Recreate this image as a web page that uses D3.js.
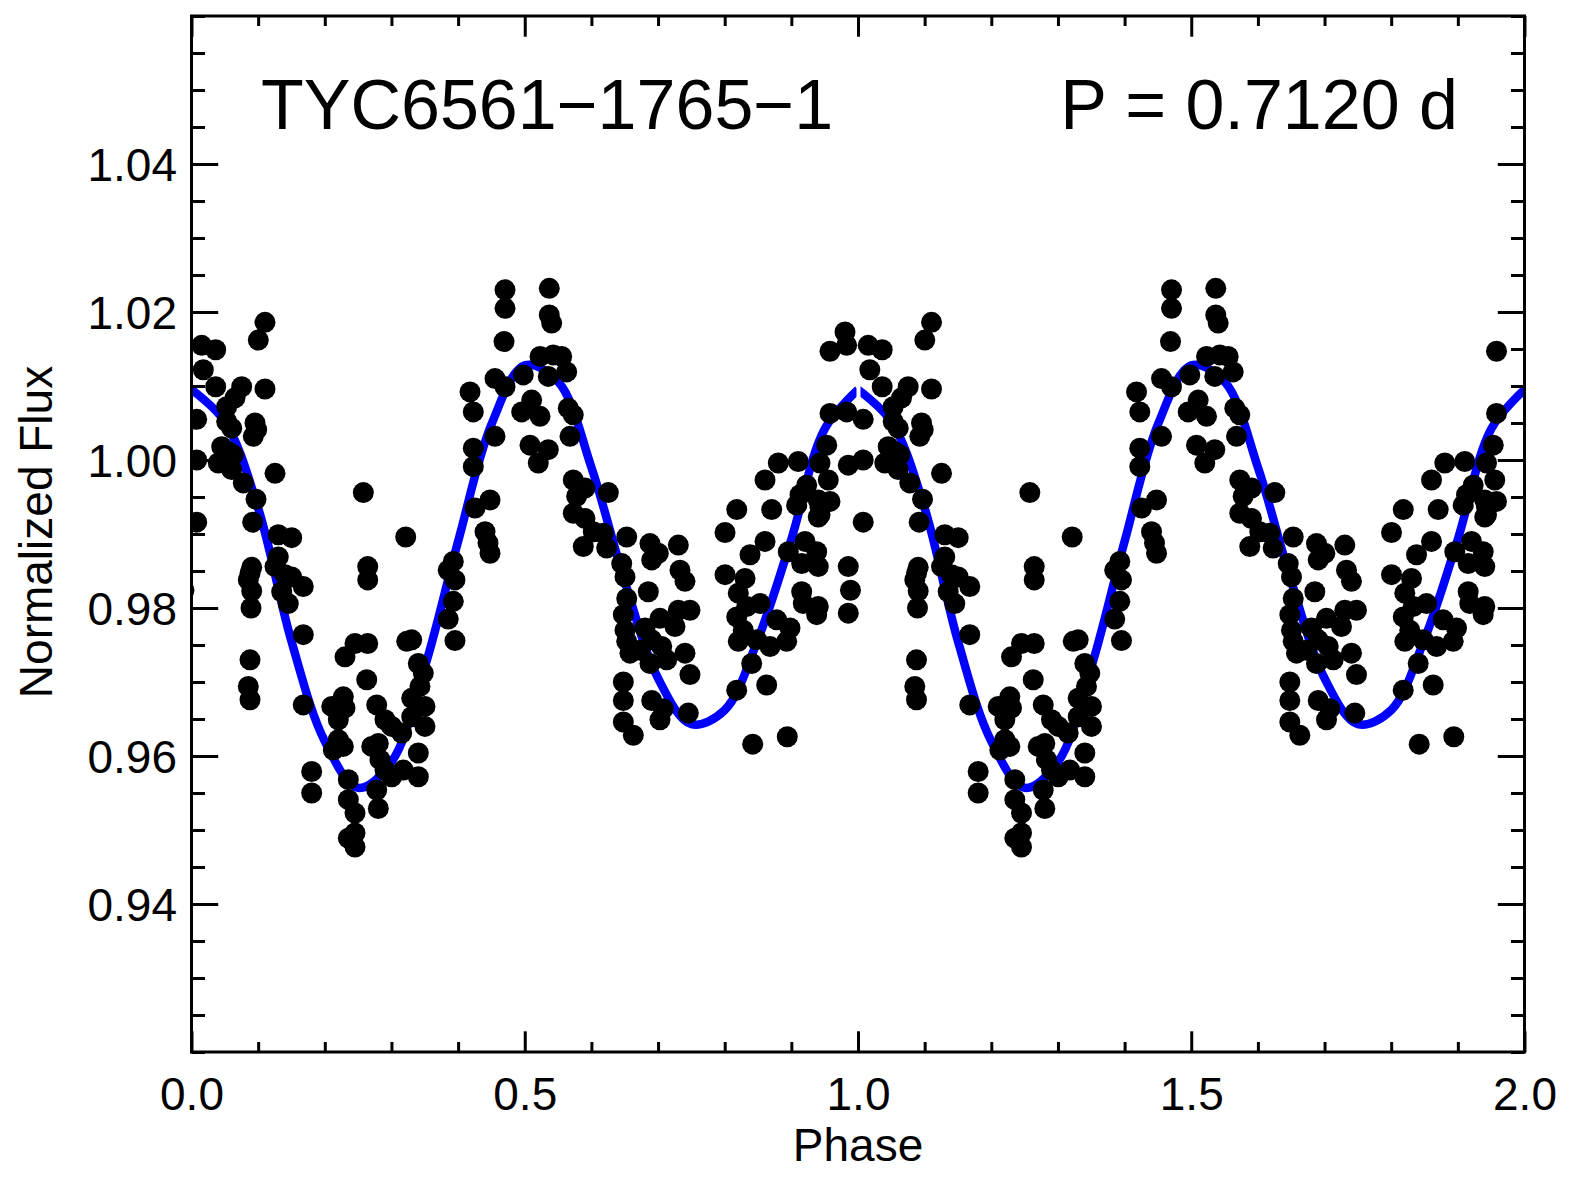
<!DOCTYPE html>
<html>
<head>
<meta charset="utf-8">
<script src="https://cdn.jsdelivr.net/npm/d3@7"></script>
<style>
html, body { margin: 0; padding: 0; background: #ffffff; }
svg { display: block; }
</style>
</head>
<body>
<svg id="chart" width="1576" height="1188"></svg>
<script>
// ---------------- data ----------------
// folded light curve: phase (cycle 0) and normalized flux; the plot shows each point at phase and phase+1
const phase = [
  -0.0195,-0.0170,-0.0170,-0.0146,-0.0146,-0.0113,-0.0146,
  0.0078,0.0078,0.0078,0.0153,0.0177,0.0363,0.0363,0.0753,0.1103,0.1103,
  0.1002,0.0653,0.0528,0.0528,0.0953,0.0978,0.0603,0.0927,0.0453,0.0552,
  0.0627,0.0402,0.0603,0.0777,0.1253,0.0968,0.0918,0.1302,0.1503,0.1302,
  0.0903,0.0878,0.0852,0.0903,0.0893,0.1403,0.1503,0.1253,0.1353,0.1452,
  0.1677,0.1677,0.0878,0.0852,0.0878,0.1677,0.1803,0.1803,0.2578,0.2644,
  0.2644,0.2303,0.2453,0.2644,0.2629,0.2104,0.2278,0.2303,0.2203,0.2203,
  0.2128,0.2278,0.2353,0.2353,0.2453,0.2453,0.2353,0.2453,0.2779,0.2803,
  0.2903,0.3004,0.2828,0.2903,0.2779,0.2803,0.3154,0.3178,0.2704,0.3004,
  0.3229,0.3304,0.3403,0.3478,0.3428,0.3304,0.3503,0.3304,0.3503,0.3403,
  0.3403,0.3214,0.3852,0.3928,0.3953,0.3928,0.3852,0.3953,0.4404,0.4449,
  0.4479,0.4704,0.4704,0.5368,0.5368,0.5404,0.4689,0.5229,0.5428,0.5554,
  0.5629,0.5353,0.4978,0.4554,0.4704,0.4179,0.4228,0.5104,0.4954,0.5229,
  0.5653,0.5728,0.5679,0.4554,0.5079,0.5353,0.5203,0.4228,0.4228,0.5728,
  0.5904,0.5779,0.6254,0.4254,0.4479,0.5728,0.5904,0.5878,0.6178,0.6229,
  0.6530,0.6455,0.8181,0.8705,0.8005,0.8605,0.8380,0.9080,0.9430,0.9404,
  0.6028,0.6879,0.7004,0.6905,0.7304,0.6504,0.7329,0.7404,0.6854,0.6530,
  0.8005,0.8305,0.8204,0.8954,0.9205,0.9380,0.9155,0.9404,0.9155,0.9179,
  0.9404,0.9380,0.6479,0.6504,0.6530,0.6579,0.6804,0.7029,0.7304,0.7479,
  0.6905,0.7055,0.7254,0.6879,0.7130,0.7404,0.7479,0.6729,0.6479,0.6479,
  0.6905,0.7079,0.7029,0.7454,0.6479,0.6629,0.8181,0.8279,0.8204,0.8530,
  0.8330,0.8780,0.8980,0.8930,0.8680,0.8405,0.8630,0.8180,0.8420,0.8939,
  0.8480,0.9580,0.9580,0.9531,0.8804,0.9104,0.9430,0.8605,0.9554,0.9230,
  0.9130,0.9404,0.9580,0.9430
];
const flux = [
  1.0173,1.0155,1.0065,0.9993,0.9856,0.9824,0.9793,
  1.0055,1.0000,0.9916,1.0155,1.0122,1.0149,1.0099,1.0099,1.0096,1.0186,
  1.0162,1.0084,1.0072,1.0052,1.0050,1.0041,1.0043,1.0032,1.0018,1.0011,
  1.0007,0.9996,0.9987,0.9969,0.9982,0.9947,0.9916,0.9899,0.9895,0.9869,
  0.9855,0.9847,0.9838,0.9823,0.9800,0.9845,0.9842,0.9856,0.9822,0.9806,
  0.9829,0.9764,0.9730,0.9694,0.9676,0.9669,0.9579,0.9550,0.9956,0.9856,
  0.9838,0.9734,0.9752,0.9752,0.9703,0.9667,0.9680,0.9665,0.9649,0.9622,
  0.9608,0.9613,0.9568,0.9541,0.9523,0.9496,0.9489,0.9477,0.9669,0.9617,
  0.9649,0.9640,0.9595,0.9581,0.9554,0.9529,0.9631,0.9581,0.9613,0.9572,
  0.9755,0.9757,0.9725,0.9712,0.9694,0.9678,0.9667,0.9653,0.9640,0.9604,
  0.9572,0.9896,0.9851,0.9863,0.9838,0.9809,0.9785,0.9756,0.9903,0.9888,
  0.9874,1.0230,1.0205,1.0232,1.0196,1.0185,1.0160,1.0140,1.0142,1.0140,
  1.0119,1.0113,1.0115,1.0110,1.0099,1.0092,1.0065,1.0081,1.0065,1.0059,
  1.0070,1.0061,1.0032,1.0032,1.0020,1.0014,0.9996,1.0016,0.9991,0.9973,
  0.9962,0.9951,0.9956,0.9935,0.9946,0.9928,0.9921,0.9883,0.9901,0.9881,
  0.9896,0.9860,0.9933,0.9933,0.9902,0.9890,0.9872,0.9939,0.9937,0.9923,
  0.9903,0.9887,0.9874,0.9865,0.9885,0.9842,0.9851,0.9836,0.9822,0.9813,
  0.9845,0.9840,0.9820,0.9876,0.9890,0.9876,0.9860,0.9856,0.9822,0.9806,
  0.9802,0.9791,0.9791,0.9770,0.9755,0.9739,0.9773,0.9786,0.9797,0.9797,
  0.9757,0.9748,0.9775,0.9725,0.9730,0.9739,0.9710,0.9743,0.9700,0.9675,
  0.9675,0.9664,0.9649,0.9658,0.9646,0.9628,0.9788,0.9770,0.9755,0.9806,
  0.9802,0.9784,0.9773,0.9755,0.9748,0.9725,0.9696,0.9689,0.9616,0.9626,
  0.9757,1.0147,1.0063,1.0020,0.9996,0.9998,0.9996,0.9973,0.9973,0.9966,
  0.9953,0.9946,0.9944,0.9926
];
// fitted model curve, read at phase steps of 0.05
const fitPhase = [0,0.05,0.10,0.15,0.20,0.25,0.30,0.35,0.40,0.45,0.50,0.55,0.60,0.65,0.70,0.75,0.80,0.85,0.90,0.95,1.00];
const fitFlux  = [1.0095,1.0052,0.9935,0.9755,0.9620,0.9557,0.9592,0.9720,0.9890,1.0048,1.0128,1.0106,0.9990,0.9836,0.9705,0.9643,0.9662,0.9758,0.9893,1.0042,1.0095];
const cycleOffsets = [0, 1];

const xMajorTicks = [0, 0.5, 1.0, 1.5, 2.0];
const xTickLabels = ["0.0", "0.5", "1.0", "1.5", "2.0"];
const xMinorStep = 0.1;
const yMajorTicks = [0.94, 0.96, 0.98, 1.00, 1.02, 1.04];
const yTickLabels = ["0.94", "0.96", "0.98", "1.00", "1.02", "1.04"];
const yMinorStep = 0.005;
const xDomain = [0, 2];
const yDomain = [0.92, 1.06];

const starName = "TYC6561\u22121765\u22121";
const periodText = "P = 0.7120 d";
const xTitle = "Phase";
const yTitle = "Normalized Flux";

// ---------------- layout ----------------
const FONT = "'Liberation Sans', Arial, Helvetica, sans-serif";
const L = 191.5, R = 1524.5, T = 16, B = 1052;
const svg = d3.select("#chart");
svg.append("rect").attr("width", 1576).attr("height", 1188).attr("fill", "#fff");

const x = d3.scaleLinear().domain(xDomain).range([L, R]);
const y = d3.scaleLinear().domain(yDomain).range([B, T]);

const defs = svg.append("defs");
defs.append("clipPath").attr("id", "plotclip")
  .append("rect").attr("x", L).attr("y", T).attr("width", R - L).attr("height", B - T);
// each model-curve cycle is its own piece; a small break shows where they meet
const joinX = x(xDomain[0] + 1);
defs.append("clipPath").attr("id", "cyc0")
  .append("rect").attr("x", L).attr("y", T).attr("width", joinX - 1.5 - L).attr("height", B - T);
defs.append("clipPath").attr("id", "cyc1")
  .append("rect").attr("x", joinX + 2.5).attr("y", T).attr("width", R - joinX - 2.5).attr("height", B - T);

const plot = svg.append("g").attr("clip-path", "url(#plotclip)");

// model curve (drawn under the points), one piece per cycle
const fit = fitPhase.map((p, i) => [p, fitFlux[i]]);
cycleOffsets.forEach((c, k) => {
  const line = d3.line().x(d => x(d[0] + c)).y(d => y(d[1])).curve(d3.curveCatmullRom.alpha(0.5));
  plot.append("g").attr("clip-path", `url(#cyc${k})`)
    .append("path").datum(fit)
    .attr("d", line)
    .attr("fill", "none")
    .attr("stroke", "#0000ff")
    .attr("stroke-width", 8.5)
    .attr("stroke-linecap", "butt");
});

// data points
const pts = [];
cycleOffsets.forEach(c => phase.forEach((p, i) => pts.push([p + c, flux[i]])));
plot.append("g").selectAll("circle").data(pts).join("circle")
  .attr("cx", d => x(d[0]))
  .attr("cy", d => y(d[1]))
  .attr("r", 10.5)
  .attr("fill", "#000");

// ---------------- axes (ticks inward on all four sides) ----------------
const nx = Math.round((xDomain[1] - xDomain[0]) / xMinorStep);
const xMinor = d3.range(nx + 1).map(i => +(xDomain[0] + i * xMinorStep).toFixed(3)).filter(v => !xMajorTicks.includes(v));
const ny = Math.round((yDomain[1] - yDomain[0]) / yMinorStep);
const yMinor = d3.range(ny + 1).map(i => +(yDomain[0] + i * yMinorStep).toFixed(4)).filter(v => !yMajorTicks.includes(v));

const xMajLen = 20.7, xMinLen = 10, yMajLen = 26.7, yMinLen = 13.5;

function styleAxis(g) {
  g.select(".domain").remove();
  g.selectAll(".tick line").attr("stroke", "#000").attr("stroke-width", 3);
  g.selectAll("text").attr("font-family", FONT).attr("font-size", 46).attr("fill", "#000");
}

// bottom
svg.append("g").attr("transform", `translate(0,${B})`)
  .call(d3.axisBottom(x).tickValues(xMinor).tickSize(-xMinLen).tickFormat(""))
  .call(styleAxis);
svg.append("g").attr("transform", `translate(0,${B})`)
  .call(d3.axisBottom(x).tickValues(xMajorTicks).tickSize(-xMajLen).tickPadding(25)
        .tickFormat((d, i) => xTickLabels[i]))
  .call(styleAxis);
// top
svg.append("g").attr("transform", `translate(0,${T})`)
  .call(d3.axisTop(x).tickValues(xMinor).tickSize(-xMinLen).tickFormat(""))
  .call(styleAxis);
svg.append("g").attr("transform", `translate(0,${T})`)
  .call(d3.axisTop(x).tickValues(xMajorTicks).tickSize(-xMajLen).tickFormat(""))
  .call(styleAxis);
// left
svg.append("g").attr("transform", `translate(${L},0)`)
  .call(d3.axisLeft(y).tickValues(yMinor).tickSize(-yMinLen).tickFormat(""))
  .call(styleAxis);
const yl = svg.append("g").attr("transform", `translate(${L},0)`)
  .call(d3.axisLeft(y).tickValues(yMajorTicks).tickSize(-yMajLen).tickPadding(14.5)
        .tickFormat((d, i) => yTickLabels[i]))
  .call(styleAxis);
yl.selectAll("text").attr("dy", "0.36em");
// right
svg.append("g").attr("transform", `translate(${R},0)`)
  .call(d3.axisRight(y).tickValues(yMinor).tickSize(-yMinLen).tickFormat(""))
  .call(styleAxis);
svg.append("g").attr("transform", `translate(${R},0)`)
  .call(d3.axisRight(y).tickValues(yMajorTicks).tickSize(-yMajLen).tickFormat(""))
  .call(styleAxis);

// frame
svg.append("rect").attr("x", L).attr("y", T).attr("width", R - L).attr("height", B - T)
  .attr("fill", "none").attr("stroke", "#000").attr("stroke-width", 3);

// ---------------- titles ----------------
svg.append("text").attr("x", (L + R) / 2).attr("y", 1161)
  .attr("text-anchor", "middle").attr("font-family", FONT).attr("font-size", 46)
  .text(xTitle);
svg.append("text").attr("transform", "translate(52,532) rotate(-90)")
  .attr("text-anchor", "middle").attr("font-family", FONT).attr("font-size", 46)
  .text(yTitle);

svg.append("text").attr("x", 261).attr("y", 129)
  .attr("font-family", FONT).attr("font-size", 70).text(starName);
svg.append("text").attr("x", 1458).attr("y", 129).attr("text-anchor", "end")
  .attr("font-family", FONT).attr("font-size", 70).text(periodText);
</script>
</body>
</html>
